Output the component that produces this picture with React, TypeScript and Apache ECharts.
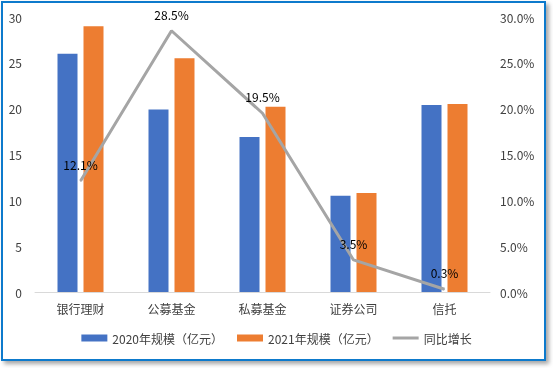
import React, { useEffect, useRef } from "react";
import * as echarts from "echarts";

const categories = ["银行理财", "公募基金", "私募基金", "证券公司", "信托"];
const scale2020 = [26.0, 19.9, 16.9, 10.5, 20.4];
const scale2021 = [29.0, 25.5, 20.2, 10.8, 20.5];
const growth = [12.1, 28.5, 19.5, 3.5, 0.3];
const seriesNames = ["2020年规模（亿元）", "2021年规模（亿元）", "同比增长"];

const FONT = "'Noto Sans CJK SC', 'Liberation Sans', sans-serif";

export default function App() {
  const ref = useRef<HTMLDivElement>(null);
  useEffect(() => {
    const chart = echarts.init(ref.current!, null, { renderer: "svg" });
    chart.setOption({
      animation: false,
      textStyle: { fontFamily: FONT },
      graphic: [
        {
          type: "rect",
          shape: { x: 2, y: 2, width: 543, height: 358 },
          style: {
            fill: "#fff",
            stroke: "#0A7ACC",
            lineWidth: 2,
            shadowBlur: 4,
            shadowOffsetX: 3,
            shadowOffsetY: 3,
            shadowColor: "rgba(0,0,0,0.35)",
          },
          z: -10,
          silent: true,
        },
      ],
      grid: { left: 35, right: 63, top: 17, bottom: 76, containLabel: false },
      legend: {
        bottom: 19,
        left: "center",
        itemWidth: 26,
        itemHeight: 7,
        itemGap: 14,
        textStyle: { fontSize: 12, color: "#404040", fontFamily: FONT },
        data: [
          { name: seriesNames[0], icon: "rect" },
          { name: seriesNames[1], icon: "rect" },
          { name: seriesNames[2], icon: "path://M0,0H26V3H0Z" },
        ],
      },
      xAxis: {
        type: "category",
        data: categories,
        axisLine: { lineStyle: { color: "#d9d9d9" } },
        axisTick: { show: false },
        axisLabel: { color: "#404040", fontSize: 12, margin: 10 },
      },
      yAxis: [
        {
          type: "value",
          min: 0,
          max: 30,
          interval: 5,
          splitLine: { show: false },
          axisLabel: { color: "#404040", fontSize: 12, margin: 13 },
        },
        {
          type: "value",
          min: 0,
          max: 30,
          interval: 5,
          splitLine: { show: false },
          axisLabel: {
            color: "#404040",
            fontSize: 12,
            margin: 10,
            formatter: (v: number) => v.toFixed(1) + "%",
          },
        },
      ],
      series: [
        {
          name: seriesNames[0],
          type: "bar",
          data: scale2020,
          barWidth: 20,
          barGap: "30%",
          itemStyle: { color: "#4472C4" },
        },
        {
          name: seriesNames[1],
          type: "bar",
          data: scale2021,
          barWidth: 20,
          barGap: "30%",
          itemStyle: { color: "#ED7D31" },
        },
        {
          name: seriesNames[2],
          type: "line",
          yAxisIndex: 1,
          data: growth,
          symbol: "circle",
          symbolSize: 1,
          showSymbol: true,
          lineStyle: { color: "#A5A5A5", width: 3 },
          itemStyle: { color: "#A5A5A5" },
          label: {
            show: true,
            position: "top",
            distance: 10,
            color: "#000",
            fontSize: 12,
            formatter: (p: any) => p.value.toFixed(1) + "%",
          },
          z: 5,
        },
      ],
    });
    return () => chart.dispose();
  }, []);
  return (
    <div
      ref={ref}
      style={{ position: "fixed", left: 0, top: 0, width: 553, height: 368 }}
    />
  );
}
